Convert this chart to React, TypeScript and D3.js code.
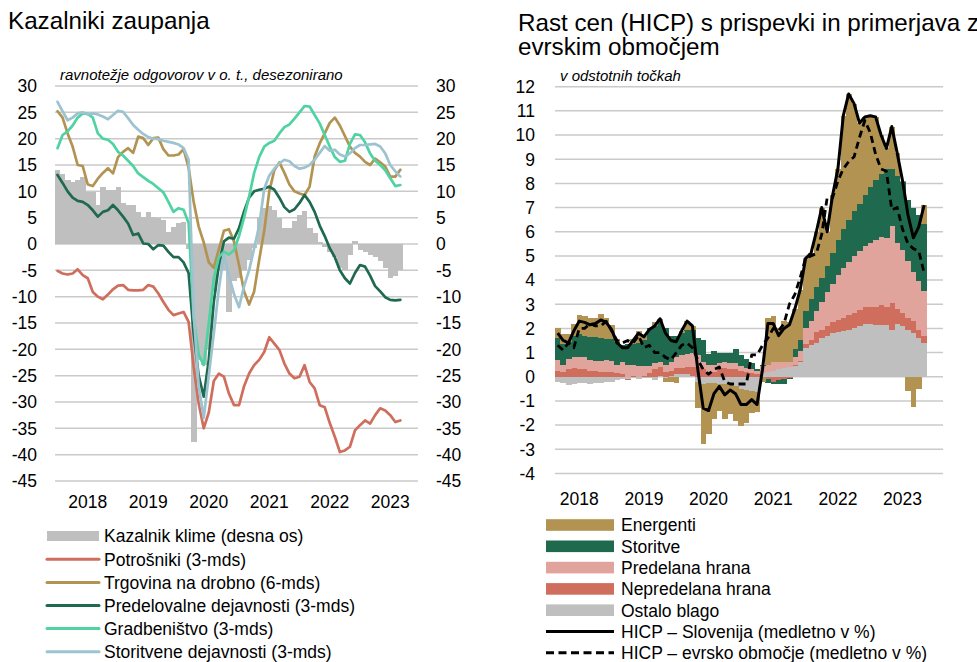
import React from "react";
import * as d3 from "d3";

// ---------- shared categories ----------
const years = ["2018", "2019", "2020", "2021", "2022", "2023"];
const leftTicks = [30, 25, 20, 15, 10, 5, 0, -5, -10, -15, -20, -25, -30, -35, -40, -45];
const rightTicks = [12, 11, 10, 9, 8, 7, 6, 5, 4, 3, 2, 1, 0, -1, -2, -3, -4];

// ---------- left chart: confidence indicators (monthly, Jan 2018 – Sep 2023) ----------
const climate = [
  14.1, 13.3, 12.2, 11.8, 12.2, 12.8, 9.9, 9.9, 7.4, 10.9, 10.3, 10.3,
  10.9, 7.7, 7.4, 7.4, 6.1, 5.2, 6.1, 5.2, 4.9, 4.6, 2.3, 3.3,
  3.9, 4.2, -1, -37.5, -22, -23, -20, -9, -5, -5, -13, -7,
  -6.5, -5, -3, -0.8, 5.2, 6.8, 7.2, 6.5, 4.9, 3.0, 3.0, 4.4,
  5.5, 6.2, 3.0, 2.0, 0.3, -0.5, -1.5, -2.5, -4.5, -5, -2, 0.6,
  -1.2, -1.6, -2, -2.4, -3.2, -4.5, -6.5, -6, -5,
];
const consumers = [
  -5.1, -5.6, -5.8, -5.6, -4.8, -5.9, -6.5, -9.1, -10, -10.5, -9.6, -8.6,
  -7.9, -7.8, -8.7, -8.8, -8.8, -8.7, -7.8, -8.1, -9.4, -11, -12.5, -13.5,
  -13.2, -12.9, -14.8, -23.3, -30.3, -35, -32, -26, -24.6, -25.2, -28.4, -30.6,
  -30.6, -27, -24.6, -23, -22, -20.5, -17.7, -18.9, -20.1, -22.7, -24.6, -25.5,
  -25.2, -23, -26.2, -27.4, -30.6, -31, -34, -36.6, -39.5, -39.2, -38.5, -35.4,
  -34.4, -33.5, -34.1, -32.5, -31.2, -31.6, -32.5, -33.8, -33.5,
];
const retail = [
  25.2, 24, 21, 18.5, 15, 14.8, 11.3, 11, 12.4, 13.5, 14.4, 13.4,
  16.5, 17.5, 18.2, 17.3, 20.4, 20.1, 18.8, 20.1, 20.2, 18, 16.8, 16.8,
  17, 18, 14.5, 8, 3.3, 0.3, -3.5, -4.5, -1, 2.5, 2.8, 0.5,
  -4, -9, -11.5, -9, -3, 2.5, 10, 14, 15.5, 13.5, 11.3, 10,
  9.6, 9.3, 10.9, 16.6, 19.1, 21, 23, 24, 22.5, 20.5, 18.5, 17.3,
  16.6, 15.6, 15, 16.2, 15.5, 14.7, 12.8, 12.8, 14.1,
];
const manufacturing = [
  13.1, 11.6, 10, 8.8, 8.2, 8, 7.4, 6.4, 5.2, 6.1, 6.4, 7.4,
  6.4, 5.2, 3.9, 1.7, 2, 0.1, 0, -1, -0.2, -0.3, -1.5, -2.5,
  -2.5, -3.5, -5.5, -17, -25, -29, -22, -11, -4, 0.5, 1.2, 1,
  3, 6.2, 8.8, 10, 10.3, 10.5, 10.9, 10.3, 8.8, 7, 6.1, 6.6,
  7.8, 9.3, 8, 6.1, 3.5, 1.5, -0.8, -2.5, -5, -6.5, -7.5, -5.5,
  -4, -4.3, -6, -8, -9, -10.1, -10.6, -10.7, -10.6,
];
const construction = [
  18.2, 20.7, 21.4, 22.5, 24, 24.8, 24.7, 24, 21, 20, 19.8, 19,
  17.5, 16.8, 15.8, 14.8, 13.4, 12.7, 12, 11.4, 10.6, 9.8, 8, 6.1,
  6.8, 6.5, 4, -14, -21, -23, -15, -6.5, -2.5, -1.5, -2, -1.2,
  1.5, 5, 9, 13.5, 16.5, 18.5, 19.2, 19.6, 21, 22.2, 22.7, 23.8,
  25, 26.2, 26.1, 24.5, 22.9, 20.7, 18.5, 16.5, 15.6, 15.8, 19, 20.8,
  20.7, 19.3, 17.2, 15.8, 15, 14, 12.5, 11, 11.2,
];
const servicesConf = [
  27, 25.2, 23.5, 24, 24.8, 25, 24.6, 24.8, 24.6, 24.2, 23.7, 24.5,
  25.3, 25.1, 23.9, 22.6, 21.7, 20.9, 20.3, 20, 19.9, 19.6, 19.4, 19.2,
  18.9, 18.2, 16, -13, -27, -33, -25, -17, -8.5, -2, -6, -9.5,
  -12, -8, -5, -0.8, 3.5, 10.5, 13, 14.3, 15.3, 16, 15.7, 14.8,
  14.3, 14.5, 15, 16, 17.3, 18.6, 17.7, 17.9, 17, 16.6, 17.2, 18.2,
  18.8, 18.8, 18.9, 19, 18.5, 17.2, 15, 13.8, 12.8,
];

// ---------- right chart: HICP contributions (monthly, Jan 2018 – Sep 2023) ----------
const otherGoods = [
  -0.2, -0.25, -0.35, -0.3, -0.25, -0.25, -0.3, -0.25, -0.25, -0.2, -0.2, -0.15,
  -0.1, -0.1, -0.05, -0.1, -0.05, -0.05, -0.15, 0.05, -0.05, 0.05, 0.1, 0.1,
  0.1, 0.05, -0.2, -0.3, -0.25, -0.25, -0.3, -0.3, -0.35, -0.4, -0.5, -0.55,
  -0.6, -0.65, 0.15, 0.2, 0.25, 0.3, 0.35, 0.4, 0.45, 0.6, 1.2, 1.3,
  1.4, 1.6, 1.7, 1.8, 1.85, 1.9, 1.95, 2.0, 2.1, 2.2, 2.2, 2.15,
  2.15, 2.15, 1.95, 2.2, 2.1, 1.95, 1.8, 1.6, 1.4,
];
const unprocessedFood = [
  0.25, 0.2, 0.3, 0.35, 0.3, 0.3, 0.25, 0.25, 0.2, 0.2, 0.2, 0.15,
  0.1, -0.05, 0.05, 0.0, 0.05, 0.15, 0.3, 0.35, 0.2, 0.2, 0.25, 0.25,
  0.3, 0.35, 0.4, 0.3, 0.2, 0.2, 0.3, 0.35, 0.3, 0.3, 0.25, 0.2,
  0.15, 0.1, 0.0, -0.1, -0.2, -0.15, -0.1, -0.05, 0.05, 0.05, 0.15, 0.2,
  0.45, 0.35, 0.4, 0.45, 0.5, 0.55, 0.6, 0.65, 0.65, 0.7, 0.7, 0.75,
  0.8, 0.75, 1.1, 0.6, 0.55, 0.5, 0.5, 0.35, 0.3,
];
const processedFood = [
  0.45, 0.3, 0.45, 0.45, 0.5, 0.5, 0.45, 0.4, 0.45, 0.5, 0.45, 0.35,
  0.5, 0.5, 0.45, 0.45, 0.4, 0.3, 0.25, 0.2, 0.3, 0.35, 0.45, 0.55,
  0.55, 0.6, 0.5, 0.3, 0.3, 0.3, 0.25, 0.25, 0.25, 0.25, 0.2, 0.15,
  0.15, 0.15, 0.3, 0.3, 0.35, 0.3, 0.25, 0.2, 0.3, 0.4, 0.65, 0.8,
  0.85, 1.15, 1.4, 1.6, 1.85, 2.05, 2.2, 2.35, 2.45, 2.5, 2.65, 2.75,
  2.85, 2.85, 3.2, 2.75, 2.6, 2.35, 2.05, 2.0, 1.85,
];
const servicesHicp = [
  0.9, 0.85, 0.7, 0.9, 0.95, 0.9, 0.95, 1.0, 0.95, 0.85, 0.9, 0.95,
  0.7, 0.85, 0.85, 0.95, 1.05, 1.55, 1.55, 1.65, 1.5, 1.1, 0.9, 0.9,
  1.0, 0.95, 0.7, 0.9, 0.45, 0.55, 0.45, 0.4, 0.45, 0.6, 0.45, 0.4,
  0.25, 0.05, 0.05, -0.15, -0.1, -0.15, -0.2, -0.05, 0.35, 0.45, 0.7, 0.9,
  1.0, 1.0, 1.1, 1.25, 1.45, 1.6, 1.75, 1.85, 1.95, 2.1, 2.3, 2.5,
  2.6, 2.85, 2.35, 2.75, 2.8, 2.5, 2.65, 2.75, 2.75,
];
const energy = [
  0.4, 0.4, 0.3, 0.5, 0.8, 0.8, 0.8, 0.8, 1.0, 0.9, 0.6, 0.1,
  0.0, 0.0, 0.2, 0.5, 0.2, 0.0, 0.15, 0.15, -0.15, -0.2, -0.25, 0.1,
  0.35, 0.15, -1.1, -2.5, -2.1, -1.5, -1.1, -1.45, -1.2, -1.45, -1.55, -1.35,
  -0.9, -0.8, -0.2, 1.95, 1.9, 1.4, 1.7, 1.65, 1.65, 2.1, 2.2, 1.9,
  2.3, 2.9, 1.4, 2.4, 2.95, 4.7, 5.2, 4.45, 3.35, 3.25, 2.95, 2.6,
  1.6, 0.85, 1.75, 0.95, 0.05, -0.6, -1.25, -0.5, 0.8,
];
const hicpSlovenia = [
  1.8, 1.5, 1.4, 1.9, 2.3, 2.25, 2.15, 2.2, 2.35, 2.25, 1.95, 1.4,
  1.2, 1.2, 1.5, 1.8, 1.65, 1.95, 2.1, 2.4, 1.8, 1.5, 1.45, 1.9,
  2.3, 2.1, 0.3, -1.3, -1.4, -0.7, -0.4, -0.75, -0.55, -0.7, -1.15, -1.15,
  -0.95, -1.15, 0.3, 2.2, 2.2, 1.7, 2.0, 2.15, 2.8, 3.6, 4.9, 5.1,
  6.0, 7.0, 6.0, 7.5, 8.6, 10.8, 11.7, 11.3, 10.5, 10.75, 10.8, 10.75,
  10.0, 9.45, 10.35, 9.25, 8.1, 6.7, 5.75, 6.2, 7.1,
];
const hicpEuro = [
  1.3, 1.1, 1.4, 1.2, 2.0, 2.0, 2.2, 2.1, 2.1, 2.3, 1.9, 1.5,
  1.4, 1.5, 1.4, 1.7, 1.2, 1.3, 1.0, 1.0, 0.8, 0.7, 1.0, 1.3,
  1.4, 1.2, 0.7, 0.3, 0.1, 0.3, 0.4, -0.2, -0.3, -0.3, -0.3, -0.3,
  0.9, 0.9, 1.3, 1.6, 2.0, 1.9, 2.2, 3.0, 3.4, 4.1, 4.9, 5.0,
  5.1, 5.9, 7.4, 7.4, 8.1, 8.6, 8.9, 9.1, 9.9, 10.6, 10.1, 9.2,
  8.6, 8.5, 6.9, 7.0, 6.1, 5.5, 5.3, 5.2, 4.3,
];

const FONT = "'Liberation Sans', Arial, Helvetica, sans-serif";
const GRID = "#CACACA";

const C = {
  gray: "#BFBFBF",
  red: "#D06E5E",
  tan: "#B29352",
  dark: "#1F6A4F",
  mint: "#4FD3A2",
  blue: "#9DC3D1",
  pink: "#E0A49D",
  black: "#000000",
};

export default function App() {
  const nBands = 72;
  const xL = d3.scaleBand<number>().domain(d3.range(nBands)).range([55, 418]);
  const bwL = xL.bandwidth();
  const yL = d3.scaleLinear().domain([-45, 30]).range([481, 86]);

  const xR = d3.scaleBand<number>().domain(d3.range(nBands)).range([555, 943]);
  const bwR = xR.bandwidth();
  const yR = d3.scaleLinear().domain([-4, 12]).range([473.4, 86.7]);

  const lineL = d3
    .line<number>()
    .x((_, i) => (xL(i) as number) + bwL / 2)
    .y((d) => yL(d));
  const lineR = d3
    .line<number>()
    .x((_, i) => (xR(i) as number) + bwR / 2)
    .y((d) => yR(d));

  const leftSeries = [
    { name: "Potrošniki (3-mds)", values: consumers, color: C.red },
    { name: "Trgovina na drobno (6-mds)", values: retail, color: C.tan },
    { name: "Predelovalne dejavnosti (3-mds)", values: manufacturing, color: C.dark },
    { name: "Gradbeništvo (3-mds)", values: construction, color: C.mint },
    { name: "Storitvene dejavnosti (3-mds)", values: servicesConf, color: C.blue },
  ];

  const keys = ["other", "unprocessed", "processed", "services", "energy"];
  const keyColor: Record<string, string> = {
    other: C.gray,
    unprocessed: C.red,
    processed: C.pink,
    services: C.dark,
    energy: C.tan,
  };
  const rows = otherGoods.map((_, i) => ({
    other: otherGoods[i],
    unprocessed: unprocessedFood[i],
    processed: processedFood[i],
    services: servicesHicp[i],
    energy: energy[i],
  }));
  const stacked = d3
    .stack<any>()
    .keys(keys)
    .offset(d3.stackOffsetDiverging)(rows);

  const rightLegend = [
    { label: "Energenti", color: C.tan, kind: "rect" },
    { label: "Storitve", color: C.dark, kind: "rect" },
    { label: "Predelana hrana", color: C.pink, kind: "rect" },
    { label: "Nepredelana hrana", color: C.red, kind: "rect" },
    { label: "Ostalo blago", color: C.gray, kind: "rect" },
    { label: "HICP – Slovenija (medletno v %)", color: C.black, kind: "solid" },
    { label: "HICP – evrsko območje (medletno v %)", color: C.black, kind: "dash" },
  ];

  return (
    <svg
      width={977}
      height={662}
      viewBox="0 0 977 662"
      style={{ position: "absolute", left: 0, top: 0, background: "#fff" }}
      fontFamily={FONT}
    >
      <rect x={0} y={0} width={977} height={662} fill="#fff" />

      {/* ---------------- LEFT CHART ---------------- */}
      <text x={8} y={29} fontSize={24.2} fill="#000">
        Kazalniki zaupanja
      </text>
      <text x={60} y={80} fontSize={15} fontStyle="italic" fill="#000">
        ravnotežje odgovorov v o. t., desezonirano
      </text>

      {leftTicks.map((t) => (
        <line key={"gl" + t} x1={55} x2={418} y1={yL(t)} y2={yL(t)} stroke={GRID} strokeWidth={1.5} />
      ))}

      <g shapeRendering="crispEdges">
        {climate.map((v, i) => (
          <rect
            key={"cb" + i}
            x={xL(i) as number}
            width={bwL + 0.4}
            y={yL(Math.max(0, v))}
            height={Math.abs(yL(v) - yL(0))}
            fill={C.gray}
          />
        ))}
      </g>

      {leftSeries.map((s) => (
        <path
          key={s.name}
          d={lineL(s.values) || ""}
          fill="none"
          stroke={s.color}
          strokeWidth={2.7}
          strokeLinejoin="round"
          strokeLinecap="round"
        />
      ))}

      {leftTicks.map((t) => (
        <text key={"tl" + t} x={37} y={yL(t)} dy="0.36em" fontSize={17.5} textAnchor="end">
          {t}
        </text>
      ))}
      {leftTicks.map((t) => (
        <text key={"tr" + t} x={436} y={yL(t)} dy="0.36em" fontSize={17.5} textAnchor="start">
          {t}
        </text>
      ))}
      {years.map((yr, k) => (
        <text
          key={"yl" + yr}
          x={(xL(6 + 12 * k) as number) + bwL / 2}
          y={508}
          fontSize={17.5}
          textAnchor="middle"
        >
          {yr}
        </text>
      ))}

      {/* left legend */}
      <g>
        <rect x={47} y={531} width={52} height={10} fill={C.gray} />
        <text x={104} y={536} dy="0.36em" fontSize={17.5}>
          Kazalnik klime (desna os)
        </text>
        {leftSeries.map((s, k) => (
          <g key={"ll" + s.name}>
            <line
              x1={47}
              x2={99}
              y1={559.3 + k * 23.1}
              y2={559.3 + k * 23.1}
              stroke={s.color}
              strokeWidth={3}
              strokeLinecap="round"
            />
            <text x={104} y={559.3 + k * 23.1} dy="0.36em" fontSize={17.5}>
              {s.name}
            </text>
          </g>
        ))}
      </g>

      {/* ---------------- RIGHT CHART ---------------- */}
      <text x={518} y={31} fontSize={24.2} fill="#000">
        Rast cen (HICP) s prispevki in primerjava z
      </text>
      <text x={518} y={55} fontSize={24.2} fill="#000">
        evrskim območjem
      </text>
      <text x={560} y={81} fontSize={15} fontStyle="italic" fill="#000">
        v odstotnih točkah
      </text>

      {rightTicks.map((t) => (
        <line key={"gr" + t} x1={555} x2={943} y1={yR(t)} y2={yR(t)} stroke={GRID} strokeWidth={1.5} />
      ))}

      <g shapeRendering="crispEdges">
        {stacked.map((layer: any) =>
          layer.map((d: any, i: number) => {
            const y0 = yR(d[0]);
            const y1 = yR(d[1]);
            const h = Math.abs(y0 - y1);
            if (h < 0.01) return null;
            return (
              <rect
                key={layer.key + i}
                x={xR(i) as number}
                width={bwR + 0.4}
                y={Math.min(y0, y1)}
                height={h}
                fill={keyColor[layer.key]}
              />
            );
          })
        )}
      </g>

      <path
        d={lineR(hicpSlovenia) || ""}
        fill="none"
        stroke={C.black}
        strokeWidth={3}
        strokeLinejoin="round"
      />
      <path
        d={lineR(hicpEuro) || ""}
        fill="none"
        stroke={C.black}
        strokeWidth={2.8}
        strokeDasharray="7,4.5"
        strokeLinejoin="round"
      />

      {rightTicks.map((t) => (
        <text key={"rt" + t} x={535} y={yR(t)} dy="0.36em" fontSize={17.5} textAnchor="end">
          {t}
        </text>
      ))}
      {years.map((yr, k) => (
        <text
          key={"yr" + yr}
          x={(xR(4 + 12 * k) as number) + bwR / 2}
          y={505}
          fontSize={17.5}
          textAnchor="middle"
        >
          {yr}
        </text>
      ))}

      {/* right legend */}
      {rightLegend.map((e, k) => {
        const cy = 525 + k * 21.3;
        return (
          <g key={"rl" + e.label}>
            {e.kind === "rect" && <rect x={546} y={cy - 5.8} width={68} height={11.6} fill={e.color} />}
            {e.kind === "solid" && (
              <line x1={546} x2={614} y1={cy} y2={cy} stroke={e.color} strokeWidth={3} />
            )}
            {e.kind === "dash" && (
              <line
                x1={546}
                x2={614}
                y1={cy}
                y2={cy}
                stroke={e.color}
                strokeWidth={3}
                strokeDasharray="8,4.5"
              />
            )}
            <text x={621} y={cy} dy="0.36em" fontSize={17.5}>
              {e.label}
            </text>
          </g>
        );
      })}
    </svg>
  );
}
